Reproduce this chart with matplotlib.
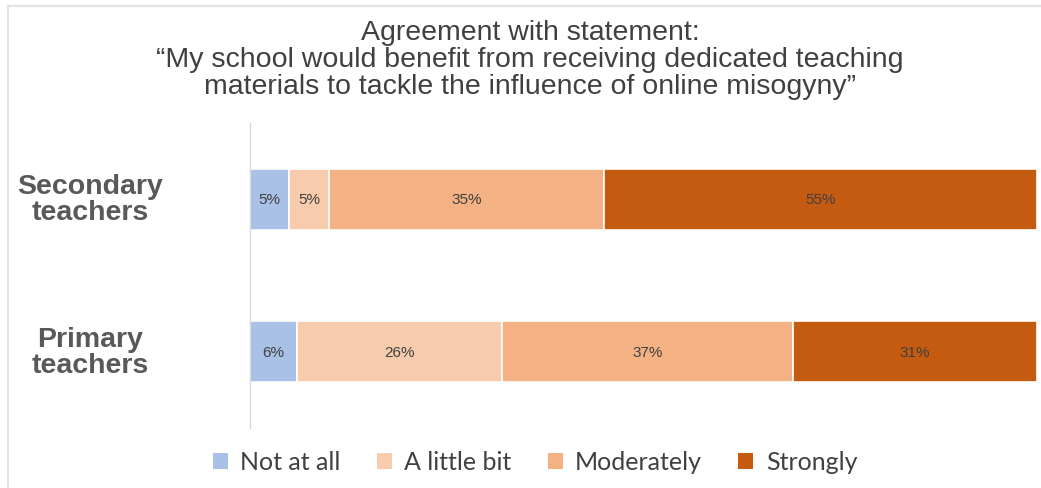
import matplotlib
matplotlib.use("Agg")
import matplotlib.pyplot as plt
from matplotlib.lines import Line2D
from matplotlib.patches import Patch
from matplotlib.transforms import ScaledTranslation

groups = ["Secondary\nteachers", "Primary\nteachers"]
series = ["Not at all", "A little bit", "Moderately", "Strongly"]
not_at_all = [5, 6]
a_little_bit = [5, 26]
moderately = [35, 37]
strongly = [55, 31]
values = [not_at_all, a_little_bit, moderately, strongly]
colors = ["#A9C1E6", "#F8CBAD", "#F4B183", "#C55A11"]

fig = plt.figure(figsize=(10.41, 4.89), dpi=100)
ax = fig.add_axes([250/1041, 60/489, 787/1041, 305/489])

y = list(range(len(groups)))
left = [0] * len(groups)
for name, vals, col in zip(series, values, colors):
    ax.barh(y, vals, left=left, height=0.4, color=col,
            edgecolor="white", linewidth=1.2, label=name)
    for yi, v, l in zip(y, vals, left):
        ax.text(l + v / 2, yi, f"{v}%", ha="center", va="center",
                fontsize=11, color="#404040", family="Liberation Sans")
    left = [a + b for a, b in zip(left, vals)]

ax.set_xlim(0, 100)
ax.set_ylim(1.5, -0.5)
ax.set_yticks(y)
ax.set_yticklabels(groups, fontsize=20.5, fontweight="bold", color="#595959",
                   family="Liberation Sans", linespacing=1.0, ha="center")
ax.tick_params(axis="y", length=0, pad=115)
offset = ScaledTranslation(0, 3/100, fig.dpi_scale_trans)
for lbl in ax.get_yticklabels():
    lbl.set_transform(lbl.get_transform() + offset)
ax.set_xticks([])
for s in ["top", "right", "bottom"]:
    ax.spines[s].set_visible(False)
ax.spines["left"].set_color("#D9D9D9")
ax.spines["left"].set_linewidth(1.0)

fig.text(530/1041, 1 - 60/489,
         "Agreement with statement:\n\u201cMy school would benefit from receiving dedicated teaching\nmaterials to tackle the influence of online misogyny\u201d",
         ha="center", va="center", fontsize=20.5, color="#404040",
         family="Liberation Sans", linespacing=1.06)

handles = [Patch(facecolor=c, edgecolor="none") for c in colors]
leg = fig.legend(handles, series, loc="center", bbox_to_anchor=(535/1041, 1 - 463/489),
                 ncol=4, frameon=False, handlelength=0.6, handleheight=0.6,
                 handletextpad=0.5, columnspacing=1.45,
                 prop={"family": "Lato", "size": 18})
for t in leg.get_texts():
    t.set_color("#404040")

# partial frame (top and left)
fig.add_artist(Line2D([8/1041, 1], [1 - 7/489, 1 - 7/489], transform=fig.transFigure,
                      color="#E3E3E3", linewidth=1.5))
fig.add_artist(Line2D([8/1041, 8/1041], [0, 1 - 7/489], transform=fig.transFigure,
                      color="#E3E3E3", linewidth=1.5))

fig.savefig("out.png", dpi=100, facecolor="white")
